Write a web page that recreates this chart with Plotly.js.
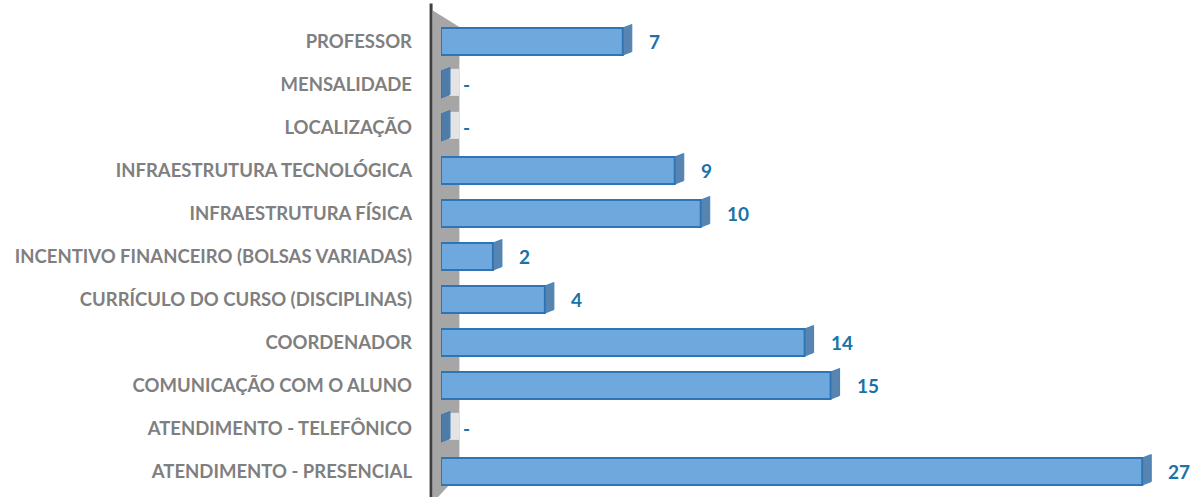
<!DOCTYPE html>
<html><head><meta charset="utf-8">
<script src="https://cdn.plot.ly/plotly-3.0.1.min.js"></script>
<style>body{margin:0;background:#fff}#c{width:1196px;height:497px}</style>
</head><body><div id="c"></div>
<script>
const categories = ["PROFESSOR","MENSALIDADE","LOCALIZAÇÃO","INFRAESTRUTURA TECNOLÓGICA","INFRAESTRUTURA FÍSICA","INCENTIVO FINANCEIRO (BOLSAS VARIADAS)","CURRÍCULO DO CURSO (DISCIPLINAS)","COORDENADOR","COMUNICAÇÃO COM O ALUNO","ATENDIMENTO - TELEFÔNICO","ATENDIMENTO - PRESENCIAL"];
const values = [7,0,0,9,10,2,4,14,15,0,27];
const labels = values.map(v => v === 0 ? "-" : String(v));

const HALF = 0.315;
const trace = {
  type: 'bar', orientation: 'h',
  y: categories, x: values,
  marker: {color: '#6FA8DC', line: {color: '#2E75B6', width: 2}},
  hoverinfo: 'none'
};

const annotations = values.map((v, i) => ({
  x: v, y: categories[i], xref: 'x', yref: 'y',
  text: labels[i], showarrow: false, xanchor: 'left', xshift: v === 0 ? 20 : 24,
  font: {family: 'Lato, "Noto Sans", sans-serif', size: 19, color: '#1B72A6', weight: 'bold'}
}));

const shapes = [
  {type: 'path', xref: 'paper', yref: 'paper', layer: 'below',
   path: 'M -0.011 1.02 L 0.025 0.985 L 0.025 0.04 L -0.011 -0.02 Z',
   fillcolor: '#A6A6A6', line: {width: 0}},
  {type: 'line', xref: 'paper', yref: 'paper', layer: 'above',
   x0: -0.0135, x1: -0.0135, y0: 1.035, y1: -0.01,
   line: {color: '#404040', width: 3}}
];
values.forEach((v, i) => {
  if (v === 0) {
    shapes.push({type: 'rect', xref: 'x', yref: 'y', xsizemode: 'pixel', xanchor: v,
      x0: 8, x1: 18, y0: i - HALF - 0.05, y1: i + HALF - 0.05,
      fillcolor: '#E4E4E4', line: {width: 0}, layer: 'above'});
  }
  shapes.push({type: 'path', xref: 'x', yref: 'y', xsizemode: 'pixel', xanchor: v,
    path: `M 0 ${i + HALF} L 9 ${i + HALF - 0.08} L 9 ${i - HALF - 0.08} L 0 ${i - HALF} Z`,
    fillcolor: '#4677AA', opacity: 0.9, line: {color: '#2E75B6', width: 1}, layer: 'above'});
});

const layout = {
  width: 1196, height: 497,
  margin: {l: 441, r: 20, t: 20, b: 4},
  paper_bgcolor: '#fff', plot_bgcolor: 'rgba(0,0,0,0)',
  bargap: 0.37,
  showlegend: false,
  xaxis: {range: [0, 28.3], visible: false, fixedrange: true},
  yaxis: {
    autorange: 'reversed', type: 'category',
    showgrid: false, zeroline: false, showline: false, ticks: '',
    ticklabelstandoff: 28,
    tickfont: {family: 'Lato, "Noto Sans", sans-serif', size: 18.5, color: '#7F7F7F', weight: 'bold'}
  },
  shapes: shapes,
  annotations: annotations
};

Plotly.newPlot('c', [trace], layout, {staticPlot: true, displayModeBar: false});
</script>
</body></html>
